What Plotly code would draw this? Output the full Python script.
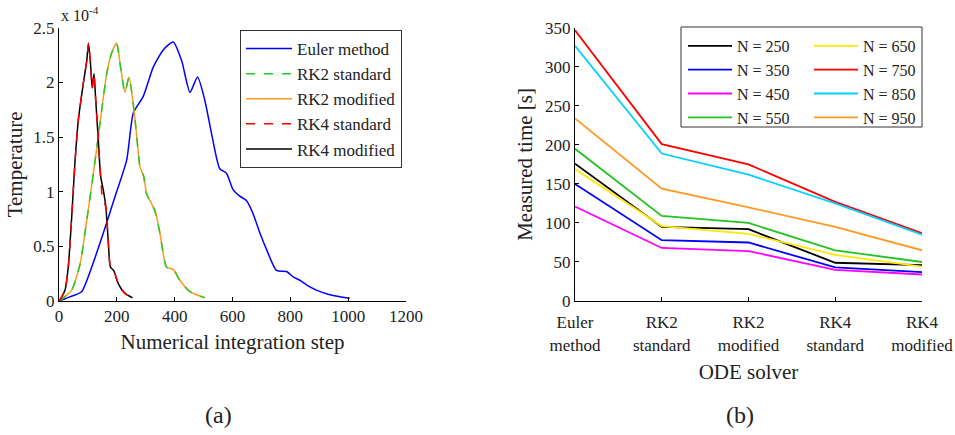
import plotly.graph_objects as go

# ---------------- Panel (a): temperature vs integration step (values in 1e-4) ----------
euler_x = [0, 40, 78, 113, 153, 193, 234, 257, 291, 326, 361, 395, 424, 453, 479, 504, 530, 556, 579, 602, 625, 648, 671, 695, 718, 752, 787, 810, 833, 860, 890, 940, 1005]
euler_y = [0, 0.04, 0.085, 0.31, 0.62, 0.95, 1.29, 1.72, 1.87, 2.14, 2.30, 2.37, 2.20, 1.91, 2.05, 1.84, 1.50, 1.21, 1.17, 1.02, 0.96, 0.92, 0.80, 0.62, 0.47, 0.28, 0.27, 0.22, 0.19, 0.14, 0.10, 0.055, 0.025]

rk2s_x = [0, 20, 44, 73, 96, 119, 142, 165, 182, 199, 213, 228, 242, 255, 268, 280, 293, 300, 310, 332, 349, 372, 395, 418, 453, 504]
rk2s_y = [0, 0.04, 0.10, 0.34, 0.74, 1.17, 1.63, 2.08, 2.27, 2.36, 2.14, 1.91, 2.05, 1.84, 1.53, 1.23, 1.14, 1.00, 0.94, 0.82, 0.62, 0.31, 0.29, 0.19, 0.085, 0.03]

rk2m_x = [0, 20, 44, 73, 96, 119, 142, 165, 182, 199, 213, 228, 242, 255, 268, 280, 293, 303, 318, 332, 349, 372, 395, 418, 453, 504]
rk2m_y = [0, 0.04, 0.10, 0.34, 0.74, 1.17, 1.63, 2.08, 2.27, 2.36, 2.14, 1.91, 2.05, 1.84, 1.53, 1.23, 1.14, 0.98, 0.90, 0.83, 0.62, 0.31, 0.29, 0.19, 0.085, 0.03]

rk4s_x = [0, 10, 21, 32, 44, 55, 67, 84, 96, 102, 109, 115, 121, 127, 136, 144, 150, 162, 170, 178, 189, 205, 228, 254]
rk4s_y = [0, 0.04, 0.10, 0.31, 0.77, 1.26, 1.66, 1.99, 2.20, 2.36, 2.17, 1.95, 2.08, 1.84, 1.47, 1.14, 0.95, 0.86, 0.56, 0.31, 0.28, 0.16, 0.07, 0.03]

rk4m_x = [0, 10, 21, 32, 44, 55, 67, 84, 96, 102, 109, 115, 121, 127, 136, 144, 153, 162, 170, 178, 189, 205, 228, 254]
rk4m_y = [0, 0.04, 0.10, 0.31, 0.77, 1.26, 1.66, 1.99, 2.20, 2.36, 2.17, 1.95, 2.08, 1.84, 1.47, 1.14, 1.02, 0.86, 0.56, 0.31, 0.28, 0.16, 0.07, 0.03]

# ---------------- Panel (b): measured time per ODE solver ----------------
solvers = ["Euler<br>method", "RK2<br>standard", "RK2<br>modified", "RK4<br>standard", "RK4<br>modified"]
t_250 = [176, 95, 92, 49, 46]
t_350 = [150, 78, 75, 43, 37]
t_450 = [121, 68, 64, 40, 34]
t_550 = [195, 109, 100, 65, 50]
t_650 = [169, 96, 86, 59, 44]
t_750 = [347, 201, 175, 127, 87]
t_850 = [327, 189, 162, 125, 85]
t_950 = [234, 144, 120, 95, 65]

FONT = "Liberation Serif, Times New Roman, Times, serif"
TXT = "#222"
fig = go.Figure()

left_series = [
    ("Euler method", euler_x, euler_y, "#0000FF", "solid"),
    ("RK2 standard", rk2s_x, rk2s_y, "#22CC22", "dash"),
    ("RK2 modified", rk2m_x, rk2m_y, "#FF9922", "solid"),
    ("RK4 standard", rk4s_x, rk4s_y, "#FF0000", "dash"),
    ("RK4 modified", rk4m_x, rk4m_y, "#000000", "solid"),
]
order = [0, 2, 1, 4, 3]  # solid lines under dashed ones
for i in order:
    name, xs, ys, col, dash = left_series[i]
    fig.add_trace(go.Scatter(x=xs, y=ys, name=name, mode="lines",
                             line=dict(color=col, width=1.5, dash=dash, shape="spline", smoothing=0.6),
                             xaxis="x", yaxis="y", legend="legend", legendrank=i + 1))

right_series = [
    ("N = 250", t_250, "#000000", "legend2"),
    ("N = 350", t_350, "#0000FF", "legend2"),
    ("N = 450", t_450, "#FF00FF", "legend2"),
    ("N = 550", t_550, "#22C322", "legend2"),
    ("N = 650", t_650, "#FFE800", "legend3"),
    ("N = 750", t_750, "#FF0000", "legend3"),
    ("N = 850", t_850, "#00D2FF", "legend3"),
    ("N = 950", t_950, "#FF9922", "legend3"),
]
for i, (name, ys, col, lg) in enumerate(right_series):
    fig.add_trace(go.Scatter(x=solvers, y=ys, name=name, mode="lines",
                             line=dict(color=col, width=1.8),
                             xaxis="x2", yaxis="y2", legend=lg, legendrank=i + 1))

ydom = [0.308, 0.936]
axis_common = dict(showline=True, linecolor="black", linewidth=1, ticks="inside", ticklen=4,
                   tickcolor="black", showgrid=False, zeroline=False, mirror=False, automargin=False,
                   tickfont=dict(family=FONT, size=17, color=TXT))

leg_common = dict(traceorder="normal", xanchor="left", yanchor="top")
TFONT = dict(family=FONT, size=21, color=TXT)

fig.update_layout(
    width=955, height=435, margin=dict(l=0, r=0, t=0, b=0),
    paper_bgcolor="white", plot_bgcolor="white",
    font=dict(family=FONT, color=TXT),
    xaxis=dict(domain=[59 / 955, 406 / 955], range=[0, 1200], tickvals=[0, 200, 400, 600, 800, 1000, 1200],
               title=dict(text="Numerical integration step", font=TFONT, standoff=8),
               **axis_common),
    yaxis=dict(domain=ydom, range=[0, 2.5], tickvals=[0, 0.5, 1, 1.5, 2, 2.5],
               title=dict(text="Temperature", font=TFONT, standoff=4),
               **axis_common),
    xaxis2=dict(domain=[575 / 955, 922 / 955], anchor="y2", range=[0, 4], ticklabelstandoff=6,
                title=dict(text="ODE solver", font=TFONT, standoff=10),
                **axis_common),
    yaxis2=dict(domain=ydom, anchor="x2", range=[0, 350], tickvals=[0, 50, 100, 150, 200, 250, 300, 350],
                title=dict(text="Measured time [s]", font=TFONT, standoff=6),
                **axis_common),
    legend=dict(x=240 / 955, y=1 - 30 / 435, bgcolor="white", bordercolor="#333", borderwidth=1,
                itemwidth=46, font=dict(family=FONT, size=17, color=TXT), **leg_common),
    legend2=dict(x=683 / 955, y=1 - 29 / 435, bgcolor="rgba(0,0,0,0)", borderwidth=0,
                 itemwidth=44, font=dict(family=FONT, size=16, color=TXT), **leg_common),
    legend3=dict(x=809 / 955, y=1 - 29 / 435, bgcolor="rgba(0,0,0,0)", borderwidth=0,
                 itemwidth=44, font=dict(family=FONT, size=16, color=TXT), **leg_common),
    showlegend=True,
    shapes=[dict(type="rect", xref="paper", yref="paper", x0=681 / 955, x1=922 / 955,
                 y0=1 - 127 / 435, y1=1 - 27 / 435, line=dict(color="#333", width=1),
                 fillcolor="white", layer="below")],
    annotations=[
        dict(text="x 10<sup>-4</sup>", xref="paper", yref="paper", x=59 / 955, y=1 - 14 / 435,
             xanchor="left", yanchor="middle", showarrow=False, font=dict(family=FONT, size=16, color=TXT)),
        dict(text="(a)", xref="paper", yref="paper", x=218 / 955, y=1 - 415 / 435,
             xanchor="center", yanchor="middle", showarrow=False, font=dict(family=FONT, size=24, color=TXT)),
        dict(text="(b)", xref="paper", yref="paper", x=740 / 955, y=1 - 415 / 435,
             xanchor="center", yanchor="middle", showarrow=False, font=dict(family=FONT, size=24, color=TXT)),
    ],
)

fig.write_html("out.html")
